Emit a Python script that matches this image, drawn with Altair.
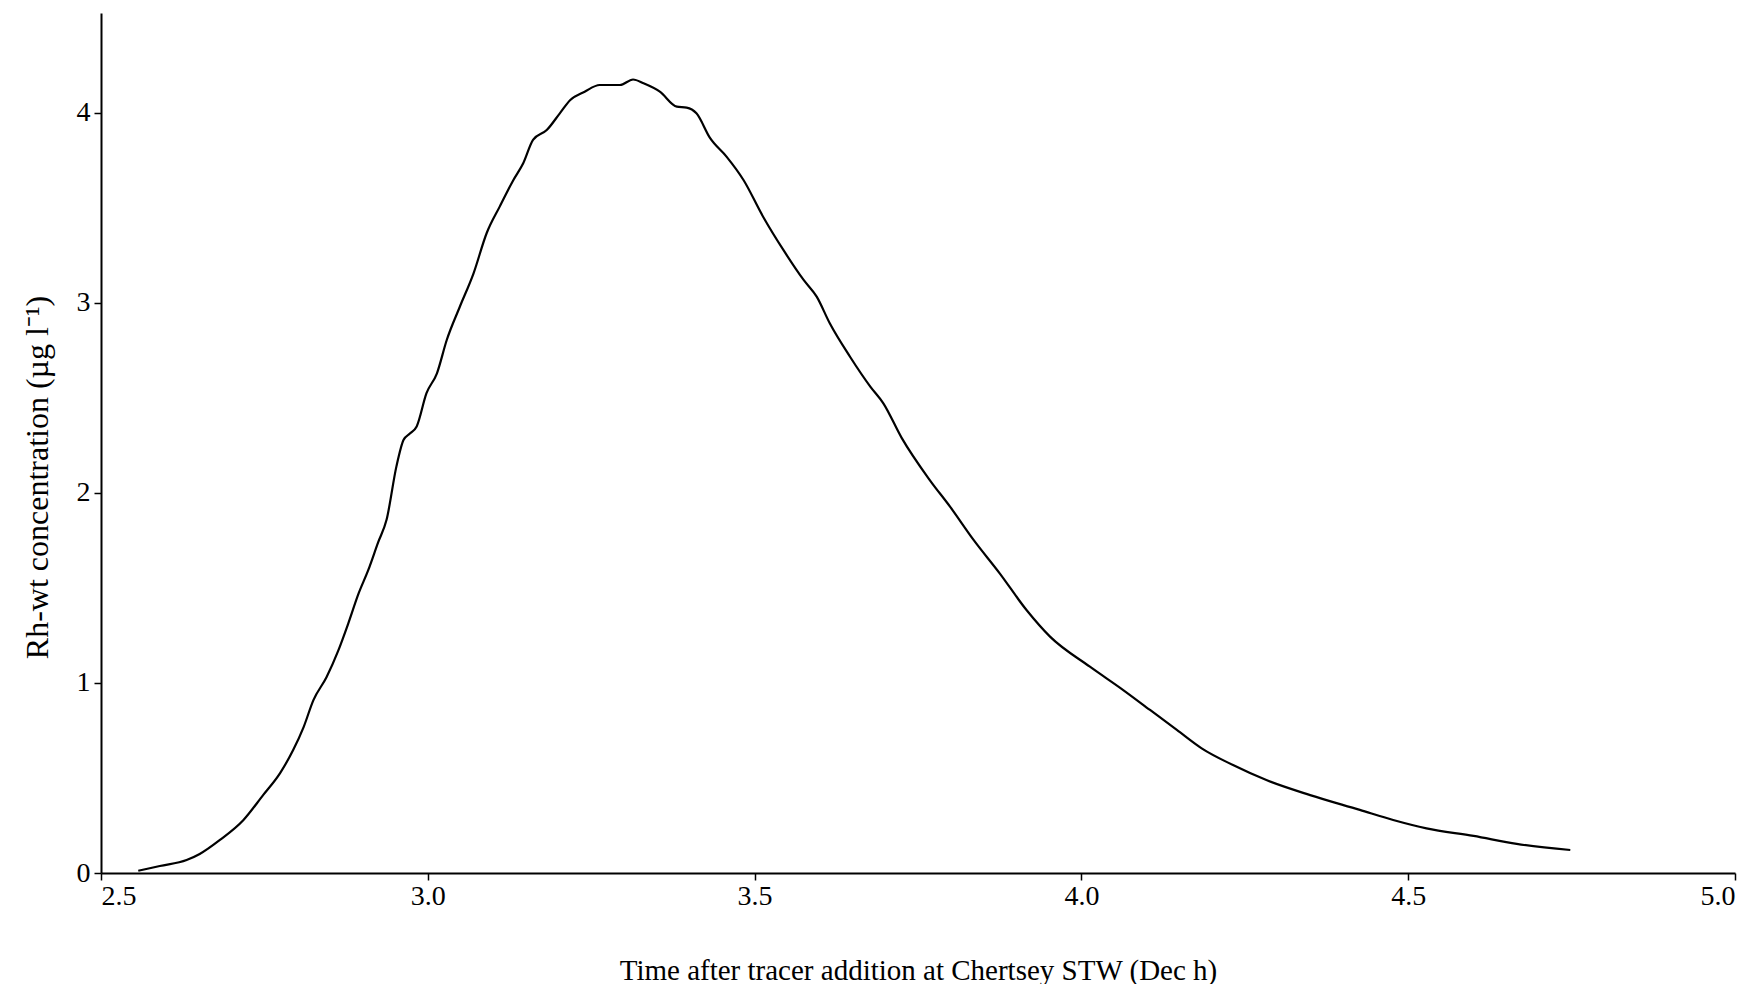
import altair as alt
import pandas as pd

# Time after tracer addition (Dec h)
time_h = [2.557, 2.590, 2.631, 2.651, 2.682, 2.718, 2.748, 2.774, 2.794, 2.810,
          2.825, 2.845, 2.863, 2.878, 2.894, 2.909, 2.924, 2.937, 2.952, 2.963,
          2.973, 2.983, 2.998, 3.014, 3.029, 3.049, 3.070, 3.090, 3.110, 3.131,
          3.146, 3.161, 3.182, 3.202, 3.218, 3.240, 3.263, 3.294, 3.314, 3.330,
          3.355, 3.381, 3.396, 3.411, 3.432, 3.457, 3.483, 3.513, 3.544, 3.575,
          3.595, 3.615, 3.646, 3.677, 3.697, 3.725, 3.768, 3.799, 3.835, 3.875,
          3.916, 3.952, 4.013, 4.064, 4.105, 4.146, 4.184, 4.232, 4.283, 4.350,
          4.426, 4.477, 4.528, 4.600, 4.666, 4.748]
# Rh-wt concentration (ug/l)
conc = [0.012, 0.037, 0.068, 0.100, 0.174, 0.279, 0.410, 0.526, 0.647, 0.768,
        0.910, 1.030, 1.170, 1.310, 1.470, 1.595, 1.740, 1.860, 2.140, 2.280,
        2.314, 2.350, 2.525, 2.630, 2.805, 2.980, 3.156, 3.367, 3.507, 3.647,
        3.735, 3.858, 3.910, 3.998, 4.068, 4.112, 4.147, 4.147, 4.176, 4.156,
        4.112, 4.033, 4.028, 3.998, 3.867, 3.770, 3.647, 3.454, 3.279, 3.121,
        3.033, 2.893, 2.717, 2.560, 2.472, 2.290, 2.068, 1.928, 1.753, 1.577,
        1.384, 1.244, 1.086, 0.963, 0.858, 0.753, 0.656, 0.568, 0.489, 0.410,
        0.332, 0.279, 0.235, 0.195, 0.153, 0.121]

x_ticks = [2.5, 3.0, 3.5, 4.0, 4.5, 5.0]
y_ticks = [0, 1, 2, 3, 4]

df = pd.DataFrame({"t": time_h, "c": conc})

FONT = "Liberation Serif"

chart = alt.Chart(df).mark_line(color="black", strokeWidth=2.2, interpolate="monotone").encode(
    x=alt.X("t:Q",
            scale=alt.Scale(domain=[2.5, 5.0], nice=False, zero=False),
            axis=alt.Axis(values=x_ticks, format=".1f",
                          title="Time after tracer addition at Chertsey STW (Dec h)",
                          titleX=817, titleY=97, titleBaseline="middle",
                          titleFontSize=29, labelPadding=2)),
    y=alt.Y("c:Q",
            scale=alt.Scale(domain=[0, 4.526], nice=False),
            axis=alt.Axis(values=y_ticks, format="d",
                          title="Rh-wt concentration (µg l⁻¹)",
                          titleX=-64, titleY=464, titleBaseline="middle",
                          titleFontSize=32, labelPadding=4)),
).properties(
    width=1634, height=860,
    autosize=alt.AutoSizeParams(type="none"),
    padding={"left": 93, "top": 5, "right": 17, "bottom": 111},
).configure_view(stroke=None).configure_axis(
    domainColor="black", domainWidth=2, tickColor="black", tickWidth=1.5,
    tickSize=7, grid=False, labelFont=FONT, labelFontSize=28, labelColor="black",
    titleFont=FONT, titleFontWeight="normal", titleColor="black",
)

chart.save("out.html", embed_options={"renderer": "svg", "actions": False})
